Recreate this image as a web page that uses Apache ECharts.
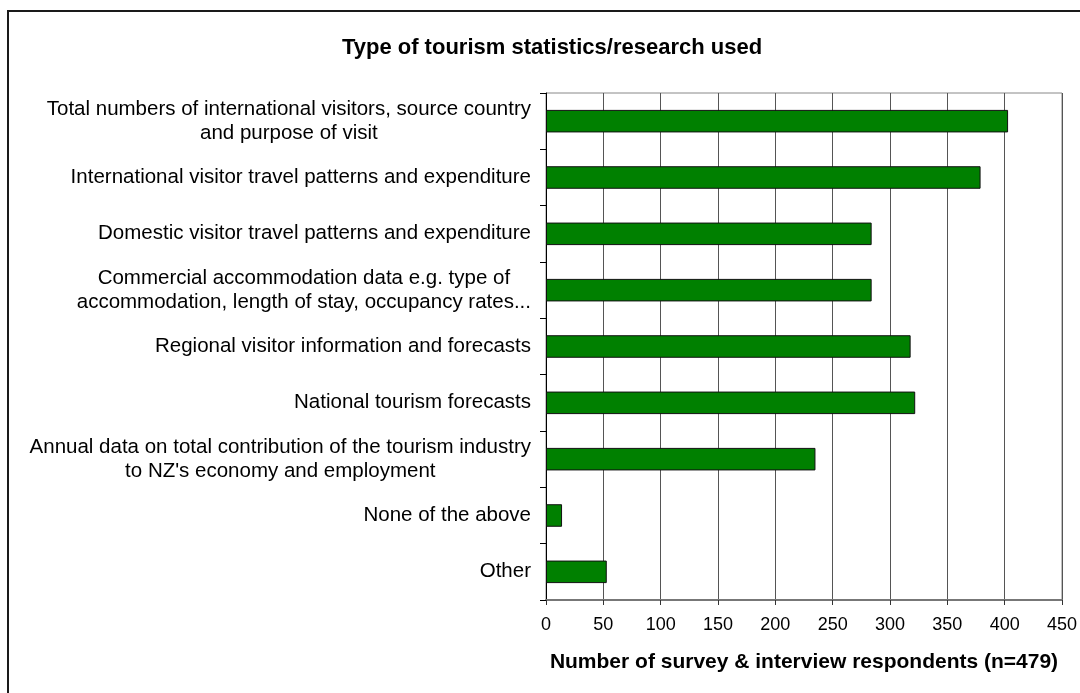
<!DOCTYPE html>
<html>
<head>
<meta charset="utf-8">
<script src="https://cdn.jsdelivr.net/npm/echarts@6/dist/echarts.min.js"></script>
<style>
  html, body { margin: 0; padding: 0; background: #fff; }
  #chart { width: 1080px; height: 693px; }
</style>
</head>
<body>
<div id="chart"></div>
<script>
// Survey categories (top to bottom), multi-line labels split with \n
const categories = [
  'Total numbers of international visitors, source country\nand purpose of visit',
  'International visitor travel patterns and expenditure',
  'Domestic visitor travel patterns and expenditure',
  'Commercial accommodation data e.g. type of\naccommodation, length of stay, occupancy rates...',
  'Regional visitor information and forecasts',
  'National tourism forecasts',
  'Annual data on total contribution of the tourism industry\nto NZ\'s economy and employment',
  'None of the above',
  'Other'
];

// Number of respondents per category
const respondents = [403, 379, 284, 284, 318, 322, 235, 14, 53];

const titleText = 'Type of tourism statistics/research used';
const xAxisTitle = 'Number of survey & interview respondents (n=479)';

const chart = echarts.init(document.getElementById('chart'), null, { renderer: 'canvas' });

const FONT = 'Arial, "Liberation Sans", Helvetica, sans-serif';

chart.setOption({
  animation: false,
  backgroundColor: '#ffffff',
  title: {
    text: titleText,
    left: 547,
    top: 32,
    textAlign: 'center',
    textStyle: { fontFamily: FONT, fontSize: 22, fontWeight: 'bold', color: '#000' }
  },
  graphic: [
    {
      type: 'rect',
      shape: { x: 8, y: 11, width: 1090, height: 700 },
      style: { fill: 'none', stroke: '#1a1a1a', lineWidth: 2 },
      silent: true,
      z: -1
    }
  ],
  grid: {
    left: 546,
    right: 14,
    top: 93,
    bottom: 93,
    show: true,
    borderColor: '#888',
    borderWidth: 1,
    containLabel: false
  },
  xAxis: {
    type: 'value',
    min: 0,
    max: 450,
    interval: 50,
    name: xAxisTitle,
    nameLocation: 'middle',
    nameGap: 52,
    nameTextStyle: { fontFamily: FONT, fontSize: 21, fontWeight: 'bold', color: '#000' },
    axisLine: { show: true, lineStyle: { color: '#777', width: 2 } },
    axisTick: { show: true, length: 5, lineStyle: { color: '#333' } },
    axisLabel: { fontFamily: FONT, fontSize: 18, color: '#000', margin: 16 },
    splitLine: { show: true, lineStyle: { color: '#555', width: 1 } }
  },
  yAxis: {
    type: 'category',
    data: categories,
    inverse: true,
    axisLine: { show: true, lineStyle: { color: '#000', width: 1 } },
    axisTick: { show: true, length: 6, inside: false, lineStyle: { color: '#000' } },
    axisLabel: {
      margin: 15,
      align: 'right',
      formatter: function (v) { return '{a|' + v + '}'; },
      rich: {
        a: { fontFamily: FONT, fontSize: 20.5, lineHeight: 24, color: '#000', align: 'center' }
      }
    },
    splitLine: { show: false }
  },
  series: [
    {
      type: 'bar',
      data: respondents,
      barWidth: '40%',
      itemStyle: { color: '#008000', borderColor: '#111', borderWidth: 1 }
    }
  ]
});
</script>
</body>
</html>
